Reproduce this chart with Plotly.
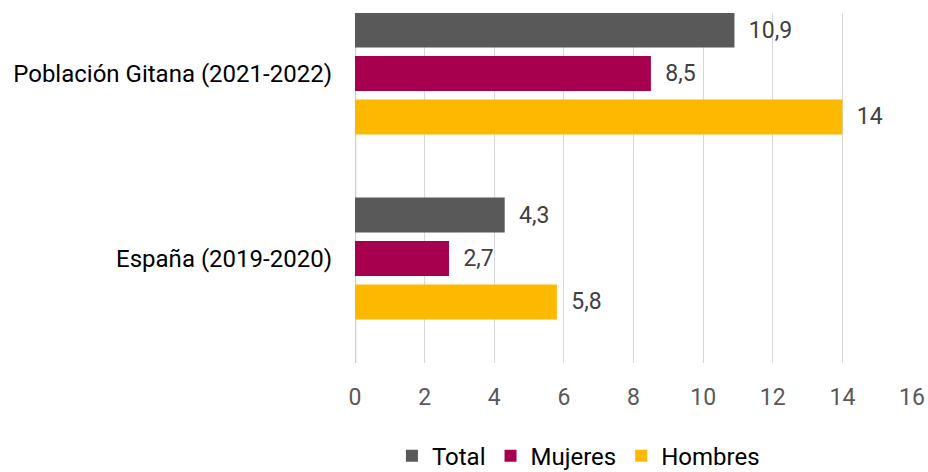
import plotly.graph_objects as go

categories = ["España (2019-2020)", "Población Gitana (2021-2022)"]
series_names = ["Total", "Mujeres", "Hombres"]
total = [4.3, 10.9]
mujeres = [2.7, 8.5]
hombres = [5.8, 14]
colors = {"Total": "#595959", "Mujeres": "#A6004F", "Hombres": "#FDB900"}
x_ticks = [0, 2, 4, 6, 8, 10, 12, 14, 16]

values = {"Total": total, "Mujeres": mujeres, "Hombres": hombres}


def fmt(v):
    s = ("%g" % v).replace(".", ",")
    return "\u00a0\u00a0" + s


fig = go.Figure()
# add in reverse so that Total sits on top within each group
for rank, name in reversed(list(enumerate(series_names))):
    fig.add_trace(go.Bar(
        name=name,
        y=categories,
        x=values[name],
        orientation="h",
        marker=dict(color=colors[name], line=dict(width=0)),
        text=[fmt(v) for v in values[name]],
        textposition="outside",
        textfont=dict(family="Roboto", size=23, color="#404040"),
        cliponaxis=False,
        legendrank=rank + 1,
    ))

fig.update_layout(
    width=928, height=472,
    margin=dict(l=355, r=16, t=13, b=109, autoexpand=False),
    paper_bgcolor="white", plot_bgcolor="white",
    barmode="group",
    bargap=0.295, bargroupgap=0.195,
    font=dict(family="Roboto", size=23, color="#000000"),
    showlegend=True,
    legend=dict(orientation="h", xref="container", yref="paper",
                x=0.6233, y=-0.266, xanchor="center", yanchor="middle",
                font=dict(family="Roboto", size=24, color="#000000"),
                traceorder="normal", itemwidth=30,
                bgcolor="rgba(0,0,0,0)"),
    xaxis=dict(range=[0, 16], tickvals=x_ticks, ticktext=[str(t) for t in x_ticks],
               showgrid=True, gridcolor="#d9d9d9", gridwidth=1,
               zeroline=False, showline=False, automargin=False,
               tickfont=dict(family="Roboto", size=23, color="#595959"),
               ticklabelstandoff=18, fixedrange=True),
    yaxis=dict(type="category", categoryorder="array", categoryarray=categories,
               range=[-0.565, 1.327], showgrid=False, zeroline=False, showline=False,
               automargin=False,
               tickfont=dict(family="Roboto", size=24, color="#000000"),
               ticklabelstandoff=22, fixedrange=True),
    shapes=[dict(type="line", xref="x", yref="paper", x0=0, x1=0, y0=0, y1=1,
                 line=dict(color="#d0d0d0", width=2.5), layer="below")],
)

fig.write_html(
    "out.html",
    config={"displayModeBar": False},
    post_script="document.body.style.margin='0';document.body.style.overflow='hidden';",
)
